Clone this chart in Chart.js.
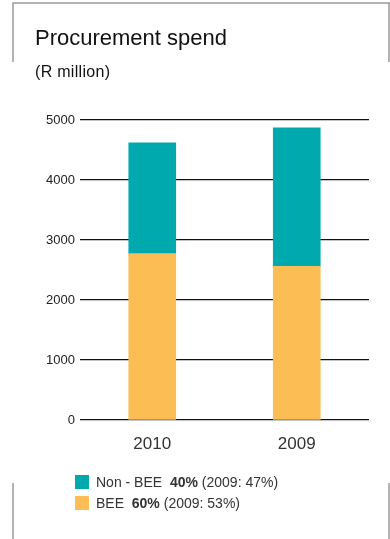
<!DOCTYPE html>
<html>
<head>
<meta charset="utf-8">
<script src="https://cdn.jsdelivr.net/npm/chart.js@4"></script>
<style>
  html, body { margin: 0; padding: 0; background: #fff; }
  body { width: 390px; height: 539px; position: relative; overflow: hidden; font-family: "Liberation Sans", Arial, sans-serif; color: #222; }
  #myChart { position: absolute; left: 0; top: 0; }
  .title { position: absolute; left: 35px; top: 25px; font-size: 22px; color: #111; }
  .unit { position: absolute; left: 35px; top: 63px; font-size: 16px; letter-spacing: 0.3px; color: #111; }
  .legend { position: absolute; left: 75px; top: 473px; font-size: 14px; color: #333; }
  .legend div { height: 21px; line-height: 18px; white-space: pre; }
  .legend span.sw { display: inline-block; width: 14px; height: 14px; vertical-align: -2px; margin-right: 7px; }
</style>
</head>
<body>
<canvas id="myChart" width="390" height="539"></canvas>
<div class="title">Procurement spend</div>
<div class="unit">(R million)</div>
<div class="legend" id="legend"></div>
<script>
const years = ['2010', '2009'];
const nonBee = [1848, 2310];
const bee = [2772, 2560];
const yTicks = [0, 1000, 2000, 3000, 4000, 5000];

const seriesNames = ['Non - BEE', 'BEE'];
const shares = ['40%', '60%'];
const sharesPrev = ['47%', '53%'];
const colors = ['#00a9ad', '#fdbd55'];

// grey frame pieces at the top and bottom of the panel
const frame = {
  id: 'frame',
  afterDraw(chart) {
    const c = chart.ctx;
    c.save();
    c.strokeStyle = '#9a9a9a';
    c.lineWidth = 1.5;
    c.beginPath();
    c.moveTo(13, 62); c.lineTo(13, 3); c.lineTo(390, 3);
    c.moveTo(389, 3); c.lineTo(389, 62);
    c.moveTo(13, 483); c.lineTo(13, 539);
    c.moveTo(389, 483); c.lineTo(389, 539);
    c.stroke();
    c.restore();
  }
};

const ctx = document.getElementById('myChart');

new Chart(ctx, {
  type: 'bar',
  data: {
    labels: years,
    datasets: [
      { label: seriesNames[1], data: bee, backgroundColor: colors[1], barThickness: 47 },
      { label: seriesNames[0], data: nonBee, backgroundColor: colors[0], barThickness: 47 }
    ]
  },
  options: {
    responsive: false,
    animation: false,
    layout: { padding: { left: 0, right: 21, top: 120, bottom: 84 } },
    plugins: { legend: { display: false }, tooltip: { enabled: false } },
    scales: {
      x: {
        stacked: true,
        grid: { display: false },
        border: { display: false },
        ticks: { color: '#333', font: { family: 'Liberation Sans', size: 17 }, padding: 6 },
        afterFit(s) { s.height = 35; }
      },
      y: {
        stacked: true,
        min: 0,
        max: 5000,
        afterBuildTicks(s) { s.ticks = yTicks.map(v => ({ value: v })); },
        grid: { color: '#111', lineWidth: 1.2, drawTicks: false },
        border: { display: false },
        ticks: {
          color: '#222',
          font: { family: 'Liberation Sans', size: 13 },
          padding: 5,
          callback: v => String(v)
        },
        afterFit(s) { s.width = 80; }
      }
    }
  },
  plugins: [frame]
});

const legend = document.getElementById('legend');
seriesNames.forEach((name, i) => {
  const row = document.createElement('div');
  row.innerHTML = '<span class="sw" style="background:' + colors[i] + '"></span>' +
    name + '  <b>' + shares[i] + '</b> (2009: ' + sharesPrev[i] + ')';
  legend.appendChild(row);
});
</script>
</body>
</html>
